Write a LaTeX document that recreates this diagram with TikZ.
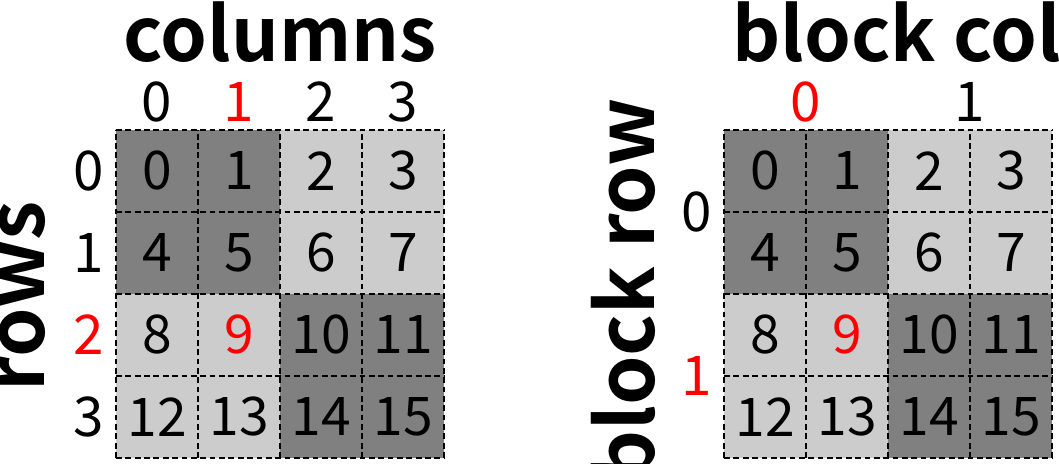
\documentclass[tikz,border=0pt]{standalone}
\usepackage{fontspec}
\setmainfont{Noto Sans CJK JP}[BoldFont={Noto Sans CJK JP Bold}]
\usetikzlibrary{positioning}

\tikzset{
    cell/.style={minimum size=2cm, inner sep=0pt, font=\fontsize{37}{40}\selectfont},
    gridline/.style={dash pattern=on 4pt off 2.5pt, line width=1pt, step=2cm},
    idx/.style={inner sep=0pt, font=\fontsize{38}{40}\selectfont},
    title/.style={inner sep=0pt, anchor=base, font=\bfseries\fontsize{52}{56}\selectfont},
    sidetitle/.style={title, rotate=90, font=\bfseries\fontsize{55}{60}\selectfont}
}

\begin{document}
\begin{tikzpicture}[x=2cm, y=2cm]
    \clip (-1.415,1.585) rectangle (11.5,-4.073);

    % the same 4x4 matrix twice, shaded by 2x2 block
    \foreach \m/\ox in {L/0, R/7.415} {
        \begin{scope}[shift={(\ox,0)}]
            \foreach \r in {0,...,3} {
                \foreach \c in {0,...,3} {
                    \pgfmathtruncatemacro\n{4*\r+\c}
                    \pgfmathtruncatemacro\blk{int(\r/2)==int(\c/2)}
                    \ifnum\blk=1 \def\tone{black!50}\else\def\tone{black!20}\fi
                    \ifnum\n=9 \def\ink{red}\else\def\ink{black}\fi
                    \node[cell, fill=\tone, text=\ink] (\m-\n) at (\c+0.5,-\r-0.5) {\n};
                }
            }
            \draw[gridline] (0,0) grid (4,-4);
        \end{scope}
    }

    % element indices
    \node[title] (cols) at (2,0.83) {columns};
    \node[sidetitle] (rows) at (-0.87,-2.03) {rows};
    \foreach \c/\clr in {0/black, 1/red, 2/black, 3/black} {
        \node[idx, text=\clr] (col-\c) at (\c+0.5,0.34) {\c};
    }
    \foreach \r/\clr in {0/black, 1/black, 2/red, 3/black} {
        \node[idx, text=\clr] (row-\r) at (-0.33,-\r-0.5) {\r};
    }

    % block indices
    \node[title, anchor=base west] (bcols) at (7.515,0.83) {block col};
    \node[sidetitle] (brows) at (6.561,-1.95) {block row};
    \node[idx, text=red] (bcol-0) at (8.415,0.34) {0};
    \node[idx] (bcol-1) at (10.415,0.34) {1};
    \node[idx] (brow-0) at (7.085,-1) {0};
    \node[idx, text=red] (brow-1) at (7.085,-3) {1};
\end{tikzpicture}
\end{document}
